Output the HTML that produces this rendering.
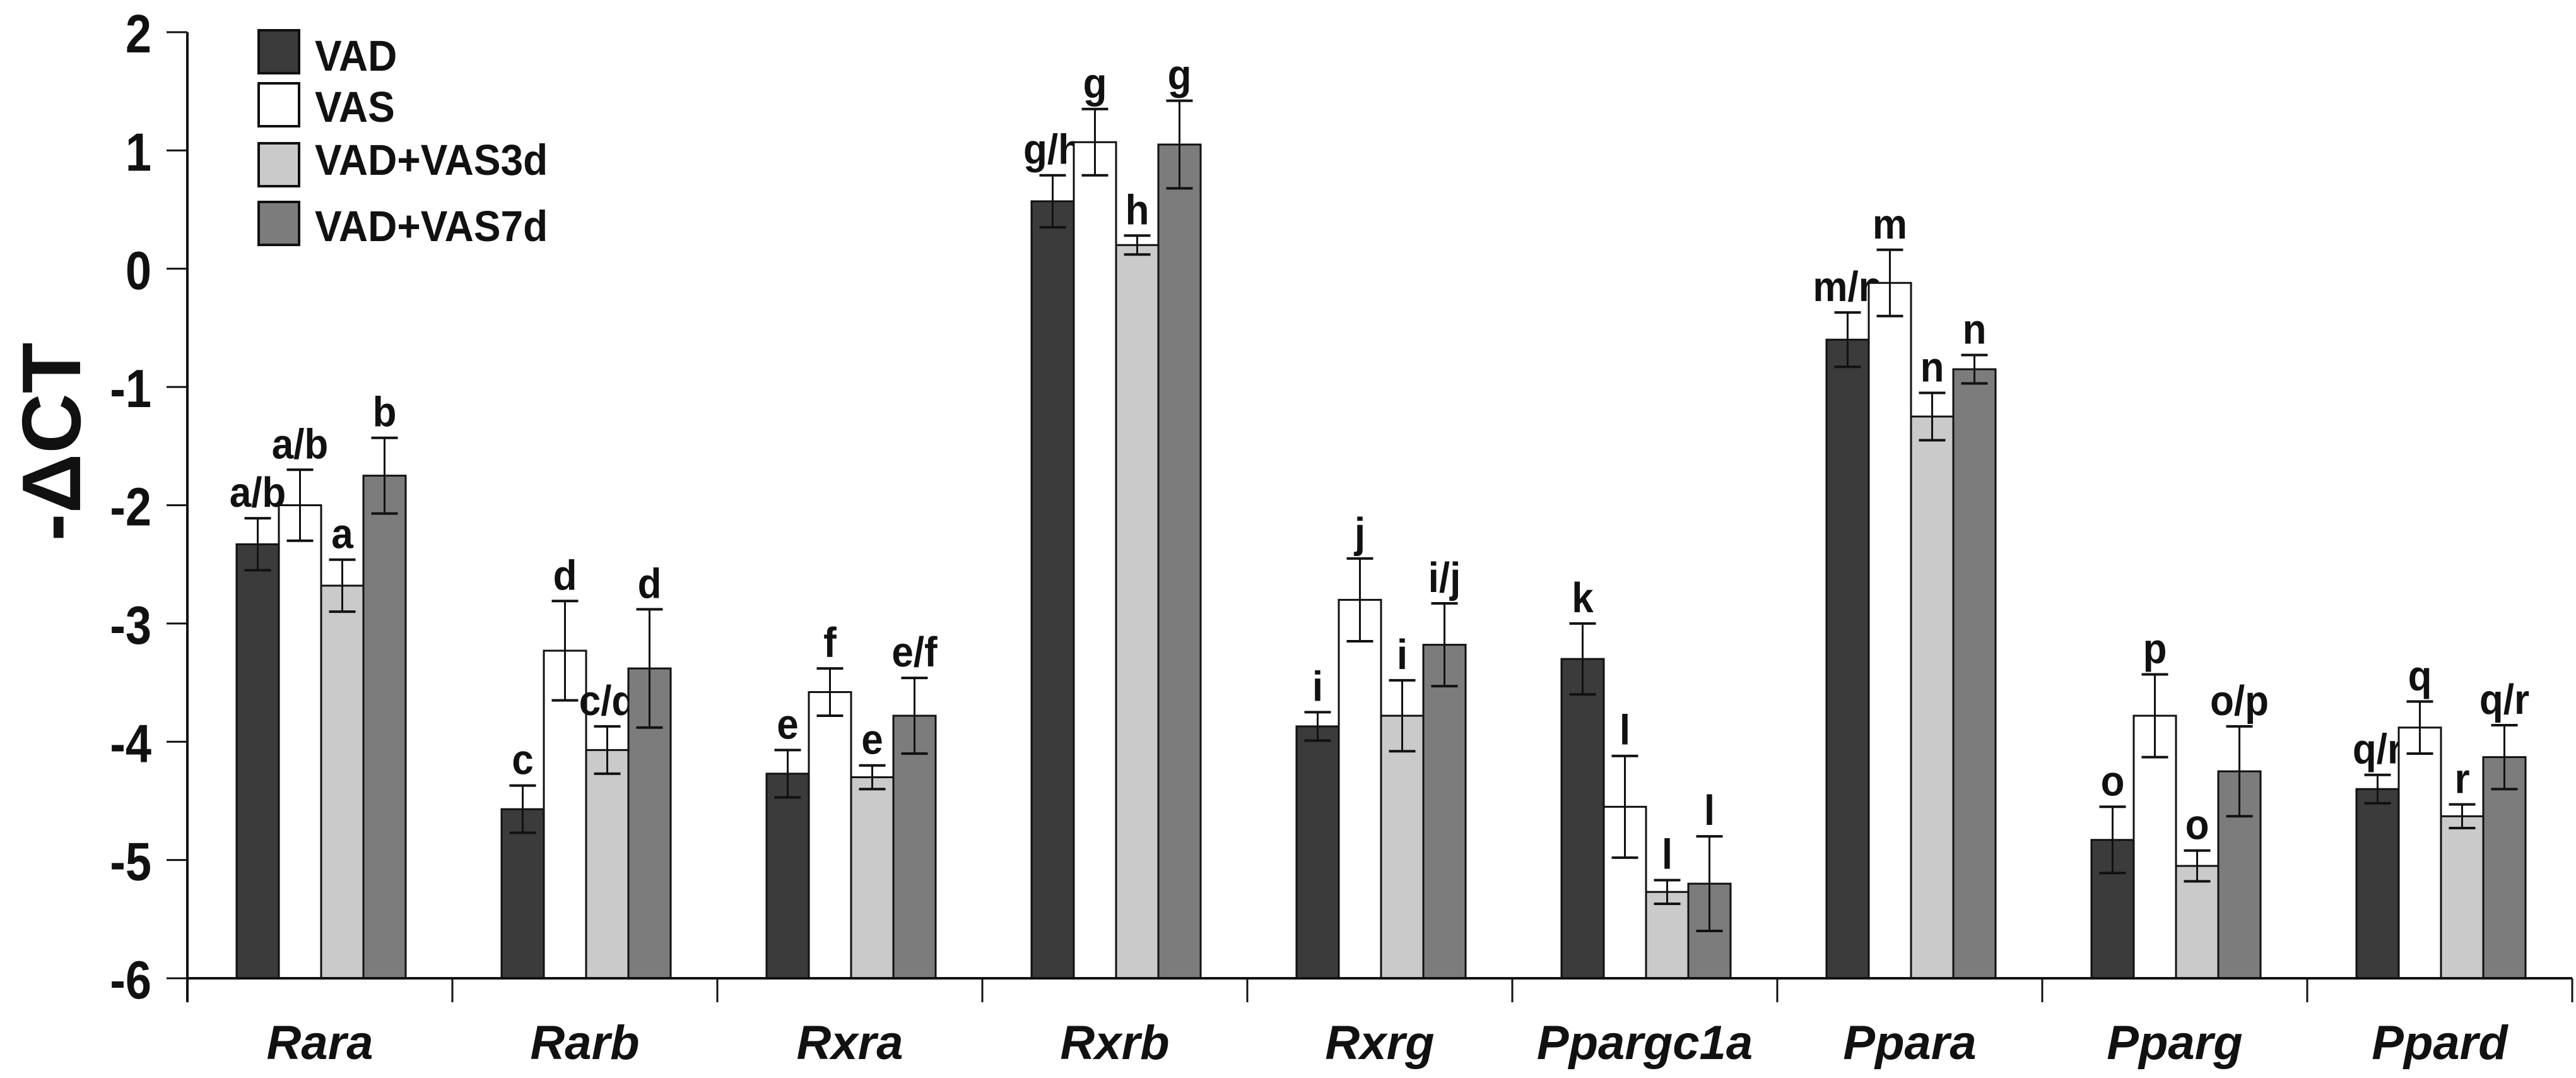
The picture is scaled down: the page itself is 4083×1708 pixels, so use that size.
<!DOCTYPE html>
<html><head><meta charset="utf-8"><style>
html,body{margin:0;padding:0;background:#fff;}
svg text{font-family:"Liberation Sans",Arial,sans-serif;}
</style></head><body>
<svg id="chart" width="4083" height="1703" viewBox="0 0 4083 1703" xmlns="http://www.w3.org/2000/svg">
<g id="plot"></g>
</svg>
<script>
const categories = ["Rara","Rarb","Rxra","Rxrb","Rxrg","Ppargc1a","Ppara","Pparg","Ppard"];
const seriesNames = ["VAD","VAS","VAD+VAS3d","VAD+VAS7d"];
const vad   = [-2.33,-4.57,-4.27,0.57,-3.87,-3.30,-0.60,-4.83,-4.40];
const vas   = [-2.00,-3.23,-3.58,1.07,-2.80,-4.55,-0.12,-3.78,-3.88];
const vas3d = [-2.68,-4.07,-4.30,0.20,-3.78,-5.27,-1.25,-5.05,-4.63];
const vas7d = [-1.75,-3.38,-3.78,1.05,-3.18,-5.20,-0.85,-4.25,-4.13];
const errVad   = [0.22,0.20,0.20,0.22,0.12,0.30,0.23,0.28,0.12];
const errVas   = [0.30,0.42,0.20,0.28,0.35,0.43,0.28,0.35,0.22];
const errVas3d = [0.22,0.20,0.10,0.08,0.30,0.10,0.20,0.13,0.10];
const errVas7d = [0.32,0.50,0.32,0.37,0.35,0.40,0.12,0.38,0.27];
const lblVad   = ["a/b","c","e","g/h","i","k","m/n","o","q/r"];
const lblVas   = ["a/b","d","f","g","j","l","m","p","q"];
const lblVas3d = ["a","c/d","e","h","i","l","n","o","r"];
const lblVas7d = ["b","d","e/f","g","i/j","l","n","o/p","q/r"];
const yTicks = [2,1,0,-1,-2,-3,-4,-5,-6];

const NS="http://www.w3.org/2000/svg";
const g=document.getElementById('plot');
const X0=297, CW=420, Y2=51, Y6=1550, YMIN=-6, YMAX=2;
const BW=67, OFF=78;
function y(v){return Y6-(v-YMIN)*(Y6-Y2)/(YMAX-YMIN);}
function x(ci,si){return X0+ci*CW+OFF+si*BW;}
function mk(tag,attrs){const e=document.createElementNS(NS,tag);for(const k in attrs)e.setAttribute(k,attrs[k]);g.appendChild(e);return e;}

const vals=[vad,vas,vas3d,vas7d], errs=[errVad,errVas,errVas3d,errVas7d], lbls=[lblVad,lblVas,lblVas3d,lblVas7d];
const fills=["#3b3b3b","#ffffff","#cacaca","#7c7c7c"];

for(let ci=0;ci<categories.length;ci++){
  for(let si=0;si<4;si++){
    const v=vals[si][ci], e=errs[si][ci];
    const bx=x(ci,si), top=y(v);
    const r=mk('rect',{x:bx,y:top,width:BW,height:Y6-top,fill:fills[si],stroke:'#111','stroke-width':3});
    
    
    const cx=bx+BW/2, et=y(v+e), eb=y(v-e);
    const l1=mk('line',{x1:cx,x2:cx,y1:et,y2:eb,stroke:'#111','stroke-width':3});
    
    
    const l2=mk('line',{x1:cx-21,x2:cx+21,y1:et,y2:et,stroke:'#111','stroke-width':4});
    
    
    const l3=mk('line',{x1:cx-21,x2:cx+21,y1:eb,y2:eb,stroke:'#111','stroke-width':4});
    
    
    const t=mk('text',{x:0,y:0,'text-anchor':'middle','font-size':62,'font-weight':'bold',fill:'#111',transform:'translate('+cx+','+(et-18)+') scale(1,1.08)'});
    t.textContent=lbls[si][ci];
    
    
  }
  const ct=mk('text',{x:X0+(ci+0.5)*CW,y:1678,'text-anchor':'middle','font-size':76,'font-weight':'bold','font-style':'italic',fill:'#111'});
  ct.textContent=categories[ci];
  
  
  const tk=mk('line',{x1:X0+(ci+1)*CW,x2:X0+(ci+1)*CW,y1:Y6,y2:Y6+38,stroke:'#111','stroke-width':3});
  
  
}
// axes
const ya=mk('line',{x1:X0,x2:X0,y1:Y2,y2:Y6+38,stroke:'#111','stroke-width':4});


const xa=mk('line',{x1:X0,x2:X0+9*CW,y1:Y6,y2:Y6,stroke:'#111','stroke-width':4});


for(const v of yTicks){
  const tl=mk('line',{x1:X0-33,x2:X0,y1:y(v),y2:y(v),stroke:'#111','stroke-width':3});
  
  
  const tt=mk('text',{x:0,y:0,'text-anchor':'end','font-size':74,'font-weight':'bold',fill:'#111',transform:'translate(240,'+(y(v)+32)+') scale(1,1.15)'});
  tt.textContent=String(v);
  
  
}
const yt=mk('text',{x:0,y:0,'text-anchor':'middle','font-size':132,'font-weight':'bold',fill:'#111',transform:'translate(127,700) rotate(-90)'});
yt.textContent='-ΔCT';


// legend
const legY=[48,132,227,320];
const legB=[112,193,277,382];
for(let si=0;si<4;si++){
  const s=mk('rect',{x:410,y:legY[si],width:64,height:68,fill:fills[si],stroke:'#111','stroke-width':4});
  
  
  const t=mk('text',{x:0,y:0,'font-size':64,'font-weight':'bold',fill:'#111',transform:'translate(499,'+legB[si]+') scale(1,1.08)'});
  t.textContent=seriesNames[si];
  
  
}
</script>
</body></html>
